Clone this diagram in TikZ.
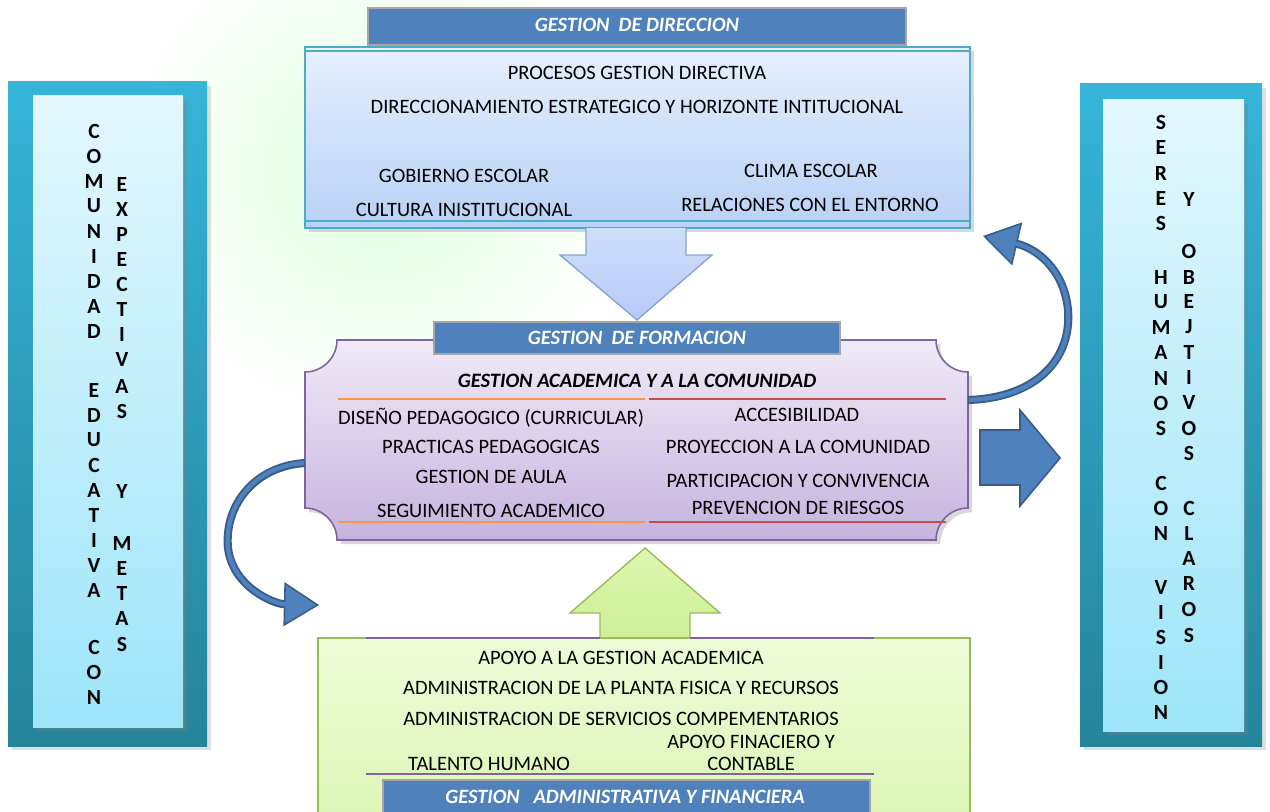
\documentclass[tikz,border=0pt]{standalone}
\usepackage{fontspec}
\setmainfont{Carlito}
\usetikzlibrary{arrows.meta,shadows}
\definecolor{hdr}{HTML}{4F81BD}
\definecolor{hdrline}{HTML}{A6A6A6}
\definecolor{dkblue}{HTML}{385D8A}
\definecolor{tealA}{HTML}{36B4D9}
\definecolor{tealB}{HTML}{25849A}
\definecolor{inA}{HTML}{E3F7FD}
\definecolor{inB}{HTML}{9DE5F9}
\definecolor{bluA}{HTML}{E6EFFD}
\definecolor{bluB}{HTML}{B9D1F6}
\definecolor{bluLine}{HTML}{4BACC6}
\definecolor{purA}{HTML}{F0EAF7}
\definecolor{purB}{HTML}{C6B3DE}
\definecolor{purLine}{HTML}{8064A2}
\definecolor{grnA}{HTML}{EEFBD8}
\definecolor{grnB}{HTML}{DDF6B6}
\definecolor{grnLine}{HTML}{9BBB59}
\definecolor{arrA}{HTML}{DDF7B0}
\definecolor{arrB}{HTML}{CDEF97}
\definecolor{orLine}{HTML}{F79646}
\definecolor{rdLine}{HTML}{C0504D}
\tikzset{
  txt/.style={font=\fontsize{11.65}{13}\selectfont, text=black, inner sep=0pt, anchor=center},
  hdrtxt/.style={font=\fontsize{11.6}{13}\selectfont\bfseries\itshape, text=white, inner sep=0pt},
  vlet/.style={font=\fontsize{12.3}{13}\selectfont\bfseries, text=black, inner sep=0pt},
  curvarrow/.style={draw=dkblue, line width=4.6pt, -{Triangle[width=25pt,length=20pt,fill=hdr,line width=0.9pt]}},
  curvinner/.style={draw=hdr, line width=2.4pt, shorten >=19pt, shorten <=0.6pt},
}
\begin{document}
\begin{tikzpicture}[x=0.02cm,y=-0.02cm]
\useasboundingbox (0,0) rectangle (1270,811);
\fill[white] (0,0) rectangle (1270,811);
% faint background tint
\shade[inner color=green!13, outer color=white] (120,-80) rectangle (640,420);

% ---------- left panel ----------
\shade[top color=tealA, bottom color=tealB, drop shadow={opacity=0.25}] (8,82) rectangle (207,746);
\shade[top color=inA, bottom color=inB, drop shadow={opacity=0.3}] (33,96) rectangle (183,727);
\foreach \l/\y [count=\i] in {C/131,O/156,M/181,U/206,N/231,I/256,D/281,A/306,D/331,E/390,D/415,U/440,C/465,A/490,T/515,I/540,V/565,A/590,C/647,O/672,N/697}
  \node[vlet] (la\i) at (94,\y) {\l};
\foreach \l/\y [count=\i] in {E/184,X/209,P/234,E/259,C/284,T/309,I/334,V/359,A/386,S/411,Y/491,M/543,E/568,T/593,A/618,S/644}
  \node[vlet] (lb\i) at (122,\y) {\l};

% ---------- right panel ----------
\shade[top color=tealA, bottom color=tealB, drop shadow={opacity=0.25}] (1080,84) rectangle (1262,746);
\shade[top color=inA, bottom color=inB, drop shadow={opacity=0.3}] (1103,100) rectangle (1244,731);
\foreach \l/\y [count=\i] in {S/122,E/147,R/173,E/198,S/223,H/277,U/302,M/327,A/352,N/378,O/403,S/428,C/483,O/508,N/533,V/587,I/612,S/637,I/662,O/687,N/712}
  \node[vlet] (ra\i) at (1161,\y) {\l};
\foreach \l/\y [count=\i] in {Y/199,O/251,B/277,E/301,J/327,T/352,I/377,V/402,O/428,S/453,C/508,L/533,A/558,R/583,O/609,S/635}
  \node[vlet] (rb\i) at (1189,\y) {\l};

% ---------- top: gestion de direccion ----------
\fill[hdr, draw=hdrline, line width=0.8pt] (368,8) rectangle (906,45);
\node[hdrtxt] (hdir) at (637,25) {GESTION\ \ DE DIRECCION};
\shade[top color=bluA, bottom color=bluB, drop shadow={opacity=0.3}] (305,47) rectangle (970,228);
\draw[bluLine, line width=0.7pt] (305,47) rectangle (970,228);
\draw[bluLine, line width=0.6pt] (305,51) -- (970,51);
\draw[bluLine, line width=0.6pt] (305,221) -- (970,221);
\node[txt] (d1) at (637,73) {PROCESOS GESTION DIRECTIVA};
\node[txt] (d2) at (637,107) {DIRECCIONAMIENTO ESTRATEGICO Y HORIZONTE INTITUCIONAL};
\node[txt] (d3) at (464,176) {GOBIERNO ESCOLAR};
\node[txt] (d4) at (464,210) {CULTURA INISTITUCIONAL};
\node[txt] (d5) at (811,171) {CLIMA ESCOLAR};
\node[txt] (d6) at (810,205) {RELACIONES CON EL ENTORNO};

% down arrow
\shade[top color=bluB!70!white, bottom color=bluB!90!blue!80!white] (586,228) -- (686,228) -- (686,255) -- (712,255) -- (637,320) -- (560,255) -- (586,255) -- cycle;
\draw[hdr!70!white, line width=0.8pt] (586,228) -- (586,255) -- (560,255) -- (637,320) -- (712,255) -- (686,255) -- (686,228);

% ---------- middle: gestion de formacion ----------
\def\pL{305}\def\pR{968}\def\pT{340}\def\pB{540}\def\r{32}
\def\plaque{(\pL+\r,\pT) -- (\pR-\r,\pT)
  .. controls (\pR-\r,\pT+0.55*\r) and (\pR-0.55*\r,\pT+\r) .. (\pR,\pT+\r)
  -- (\pR,\pB-\r)
  .. controls (\pR-0.55*\r,\pB-\r) and (\pR-\r,\pB-0.55*\r) .. (\pR-\r,\pB)
  -- (\pL+\r,\pB)
  .. controls (\pL+\r,\pB-0.55*\r) and (\pL+0.55*\r,\pB-\r) .. (\pL,\pB-\r)
  -- (\pL,\pT+\r)
  .. controls (\pL+0.55*\r,\pT+\r) and (\pL+\r,\pT+0.55*\r) .. (\pL+\r,\pT) -- cycle}
\shade[top color=purA, bottom color=purB, drop shadow={opacity=0.3}] \plaque;
\draw[purLine, line width=0.9pt] \plaque;
\coordinate (plR) at (\pR,400);
\coordinate (plL) at (\pL,463);
\fill[hdr, draw=hdrline, line width=0.8pt] (434,322) rectangle (840,354);
\node[hdrtxt] (hfor) at (637,338) {GESTION\ \ DE FORMACION};
\node[txt, font=\fontsize{11.65}{13}\selectfont\bfseries\itshape] (f0) at (637,381) {GESTION ACADEMICA Y A LA COMUNIDAD};
\draw[orLine, line width=0.9pt] (338,399) -- (645,399);
\draw[rdLine, line width=0.9pt] (649,399) -- (946,399);
\draw[orLine, line width=0.9pt] (338,522) -- (645,522);
\draw[rdLine, line width=0.9pt] (649,522) -- (946,522);
\node[txt] (f1) at (491,418) {DISEÑO PEDAGOGICO (CURRICULAR)};
\node[txt] (f2) at (491,447) {PRACTICAS PEDAGOGICAS};
\node[txt] (f3) at (491,477) {GESTION DE AULA};
\node[txt] (f4) at (491,511) {SEGUIMIENTO ACADEMICO};
\node[txt] (f5) at (797,415) {ACCESIBILIDAD};
\node[txt] (f6) at (798,447) {PROYECCION A LA COMUNIDAD};
\node[txt] (f7) at (798,481) {PARTICIPACION Y CONVIVENCIA};
\node[txt] (f8) at (798,508) {PREVENCION DE RIESGOS};

% curved arrows
\coordinate (rEnd) at (983,236);
\coordinate (lEnd) at (319,605);
\def\rpath{(plR) .. controls (1035,398) and (1072,360) .. (1068,310)
  .. controls (1064,268) and (1035,248) .. (rEnd)}
\def\lpath{(plL) .. controls (255,466) and (224,505) .. (228,548)
  .. controls (233,588) and (275,604) .. (lEnd)}
\draw[curvarrow] \rpath;
\draw[curvinner] \rpath;
\draw[curvarrow] \lpath;
\draw[curvinner] \lpath;

% big right arrow
\fill[hdr, draw=dkblue, line width=0.9pt] (980,430) -- (1020,430) -- (1020,410) -- (1060,458) -- (1020,506) -- (1020,485) -- (980,485) -- cycle;

% ---------- bottom: gestion administrativa ----------
\shade[top color=arrA, bottom color=arrB] (600,638) -- (600,613) -- (570,613) -- (645,548) -- (720,613) -- (690,613) -- (690,638) -- cycle;
\draw[grnLine, line width=0.8pt] (600,638) -- (600,613) -- (570,613) -- (645,548) -- (720,613) -- (690,613) -- (690,638);
\shade[top color=grnA, bottom color=grnB] (318,638) rectangle (970,815);
\draw[grnLine, line width=0.8pt] (318,815) -- (318,638) -- (970,638) -- (970,815);
\draw[purLine, line width=1pt] (366,638) -- (600,638);
\draw[purLine, line width=1pt] (690,638) -- (874,638);
\node[txt] (a1) at (621,658) {APOYO A LA GESTION ACADEMICA};
\node[txt] (a2) at (621,688) {ADMINISTRACION DE LA PLANTA FISICA Y RECURSOS};
\node[txt] (a3) at (621,719) {ADMINISTRACION DE SERVICIOS COMPEMENTARIOS};
\node[txt] (a4) at (751,742) {APOYO FINACIERO Y};
\node[txt] (a5) at (751,764) {CONTABLE};
\node[txt] (a6) at (489,764) {TALENTO HUMANO};
\draw[purLine, line width=1pt] (366,774) -- (874,774);
\fill[hdr, draw=hdrline, line width=0.8pt] (383,780) rectangle (870,815);
\node[hdrtxt] (hadm) at (625,797) {GESTION\ \ \ ADMINISTRATIVA Y FINANCIERA};
\end{tikzpicture}
\end{document}
